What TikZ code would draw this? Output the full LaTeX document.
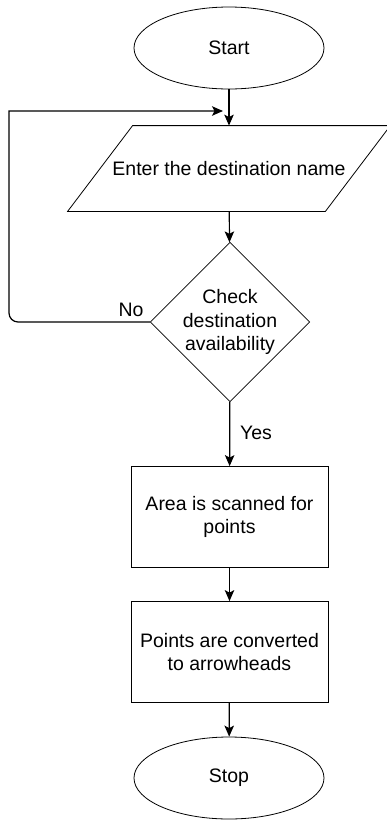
\documentclass[tikz,border=0pt]{standalone}
\usepackage{fontspec}
\setmainfont{Liberation Sans}
\usepackage{tikz}
\usetikzlibrary{arrows.meta, shapes.geometric}

\begin{document}
\begin{tikzpicture}
	[%
	x=1pt, y=-1pt,%
	line width=1.2pt,%
	every node/.style={font=\fontsize{19.5}{23.5}\selectfont},%
	terminal/.style={ellipse,		draw=black,	thick,	inner sep=0pt,	minimum width=190pt,	minimum height=82pt},%
	inout/.style   ={rectangle,					thick,	inner sep=0pt,	minimum width=257pt,	minimum height=85pt},%
	decide/.style  ={diamond,		draw=black,	thick,	inner sep=0pt,	minimum width=156pt,	minimum height=153pt,	align=center},%
	process/.style ={rectangle,	draw=black,	thick,	inner sep=0pt,	minimum width=197pt,	minimum height=101pt,	align=center},%
	flow/.style    ={-{Stealth[length=11pt,width=9.5pt,inset=2.5pt]}},%
	]

	\useasboundingbox (0,0) rectangle (387,820);

	% nodes
	\node (start)   at (229, 48)   [terminal] {Start};
	\node (enter)   at (229,168.5) [inout]    {Enter the destination name};
	\node (check)   at (230,322)   [decide]   {Check\\destination\\availability};
	\node (scan)    at (229.5,517) [process]  {Area is scanned for\\points};
	\node (convert) at (229.5,652) [process]  {Points are converted\\to arrowheads};
	\node (stop)    at (229,778)   [terminal] {Stop};

	% slanted input box
	\draw [thick] ([xshift=-32.5pt]enter.south west) -- ([xshift=32.5pt]enter.north west)
		-- ([xshift=32.5pt]enter.north east) -- ([xshift=-32.5pt]enter.south east) -- cycle;

	\node (lblno)  at (131,310) {No};
	\node (lblyes) at (256,433) {Yes};

	\coordinate (loopin) at (223,111);

	% interconnections
	\draw [flow] (start)   to (enter);
	\draw [flow] (enter)   to (check);
	\draw [flow] (check)   to (scan);
	\draw [flow] (scan)    to (convert);
	\draw [flow] (convert) to (stop);

	\draw [flow, rounded corners=9pt] (check.west) -- (9,322) [sharp corners] -- (9,111) -- (loopin);

\end{tikzpicture}
\end{document}
